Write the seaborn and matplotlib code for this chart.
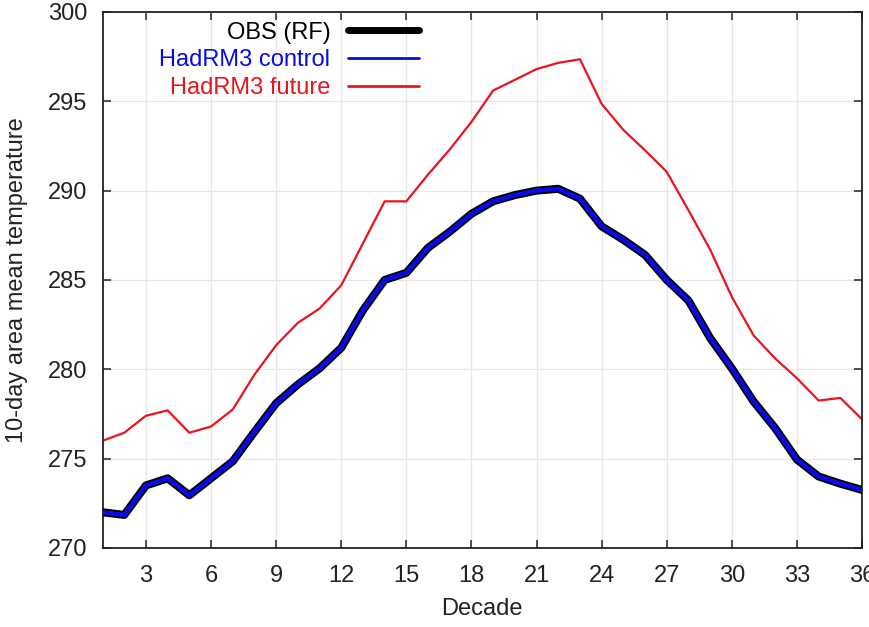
import matplotlib
matplotlib.use("Agg")
import matplotlib.pyplot as plt
import seaborn as sns
import pandas as pd

# Decade index (10-day periods of the year)
decades = list(range(1, 37))

# 10-day area mean temperature (K)
obs_rf = [272.0, 271.85, 273.5, 273.9, 272.95, 273.9, 274.85, 276.5, 278.1, 279.15,
          280.05, 281.2, 283.3, 285.0, 285.4, 286.8, 287.7, 288.7, 289.4, 289.75,
          290.0, 290.1, 289.55, 288.0, 287.25, 286.4, 285.0, 283.85, 281.75, 280.05,
          278.2, 276.7, 274.95, 274.0, 273.6, 273.25]
hadrm3_control = [272.0, 271.85, 273.5, 273.9, 272.95, 273.9, 274.85, 276.5, 278.1, 279.15,
                  280.05, 281.2, 283.3, 285.0, 285.4, 286.8, 287.7, 288.7, 289.4, 289.75,
                  290.0, 290.1, 289.55, 288.0, 287.25, 286.4, 285.0, 283.85, 281.75, 280.05,
                  278.2, 276.7, 274.95, 274.0, 273.6, 273.25]
hadrm3_future = [276.0, 276.45, 277.4, 277.7, 276.45, 276.8, 277.75, 279.7, 281.35, 282.6,
                 283.4, 284.7, 287.05, 289.4, 289.4, 290.9, 292.3, 293.85, 295.6, 296.2,
                 296.8, 297.15, 297.35, 294.85, 293.4, 292.25, 291.05, 288.9, 286.7, 284.05,
                 281.9, 280.6, 279.5, 278.25, 278.4, 277.2]

x_ticks = list(range(3, 37, 3))
y_ticks = list(range(270, 301, 5))

sns.set_style("ticks")
plt.rcParams["font.family"] = ["Liberation Sans", "DejaVu Sans"]

df = pd.DataFrame({"decade": decades, "obs": obs_rf,
                   "control": hadrm3_control, "future": hadrm3_future})

BLUE = "#0a0ae6"
RED = "#e8141e"
FS = 17

fig = plt.figure(figsize=(8.69, 6.27), dpi=100)
ax = fig.add_axes([0.118, 0.126, 0.874, 0.855])

sns.lineplot(data=df, x="decade", y="obs", ax=ax, color="black",
             linewidth=5.8, label="OBS (RF)", zorder=3)
sns.lineplot(data=df, x="decade", y="control", ax=ax, color=BLUE,
             linewidth=3.2, label="HadRM3 control", zorder=4)
sns.lineplot(data=df, x="decade", y="future", ax=ax, color=RED,
             linewidth=1.6, label="HadRM3 future", zorder=2)

ax.set_xlim(1, 36)
ax.set_ylim(270, 300)
ax.set_xticks(x_ticks)
ax.set_yticks(y_ticks)
ax.grid(True, color="#e6e6e6", linewidth=0.9)
ax.set_axisbelow(True)

for side in ["top", "right", "bottom", "left"]:
    ax.spines[side].set_visible(True)
    ax.spines[side].set_color("#222222")
    ax.spines[side].set_linewidth(1.3)

ax.tick_params(axis="both", direction="in", length=6, width=1.1,
               top=True, right=True, labelsize=FS, colors="#222222",
               labelcolor="#222222")
ax.tick_params(axis="x", pad=12)
ax.tick_params(axis="y", pad=11)

ax.set_xlabel("Decade", fontsize=FS, color="#222222", labelpad=8)
ax.set_ylabel("10-day area mean temperature", fontsize=FS, color="#222222", labelpad=14)

leg = ax.legend(loc="upper right", bbox_to_anchor=(0.4166, 0.982), markerfirst=False,
                frameon=False, fontsize=FS, handlelength=3.0, handletextpad=0.75,
                labelspacing=0.24, borderaxespad=0.0, borderpad=0.0)
for txt, col in zip(leg.get_texts(), ["black", BLUE, RED]):
    txt.set_color(col)
leg.get_lines()[0].set_linewidth(5)
leg.get_lines()[1].set_linewidth(2)
leg.get_lines()[2].set_linewidth(2)

fig.savefig("out.png", dpi=100)
